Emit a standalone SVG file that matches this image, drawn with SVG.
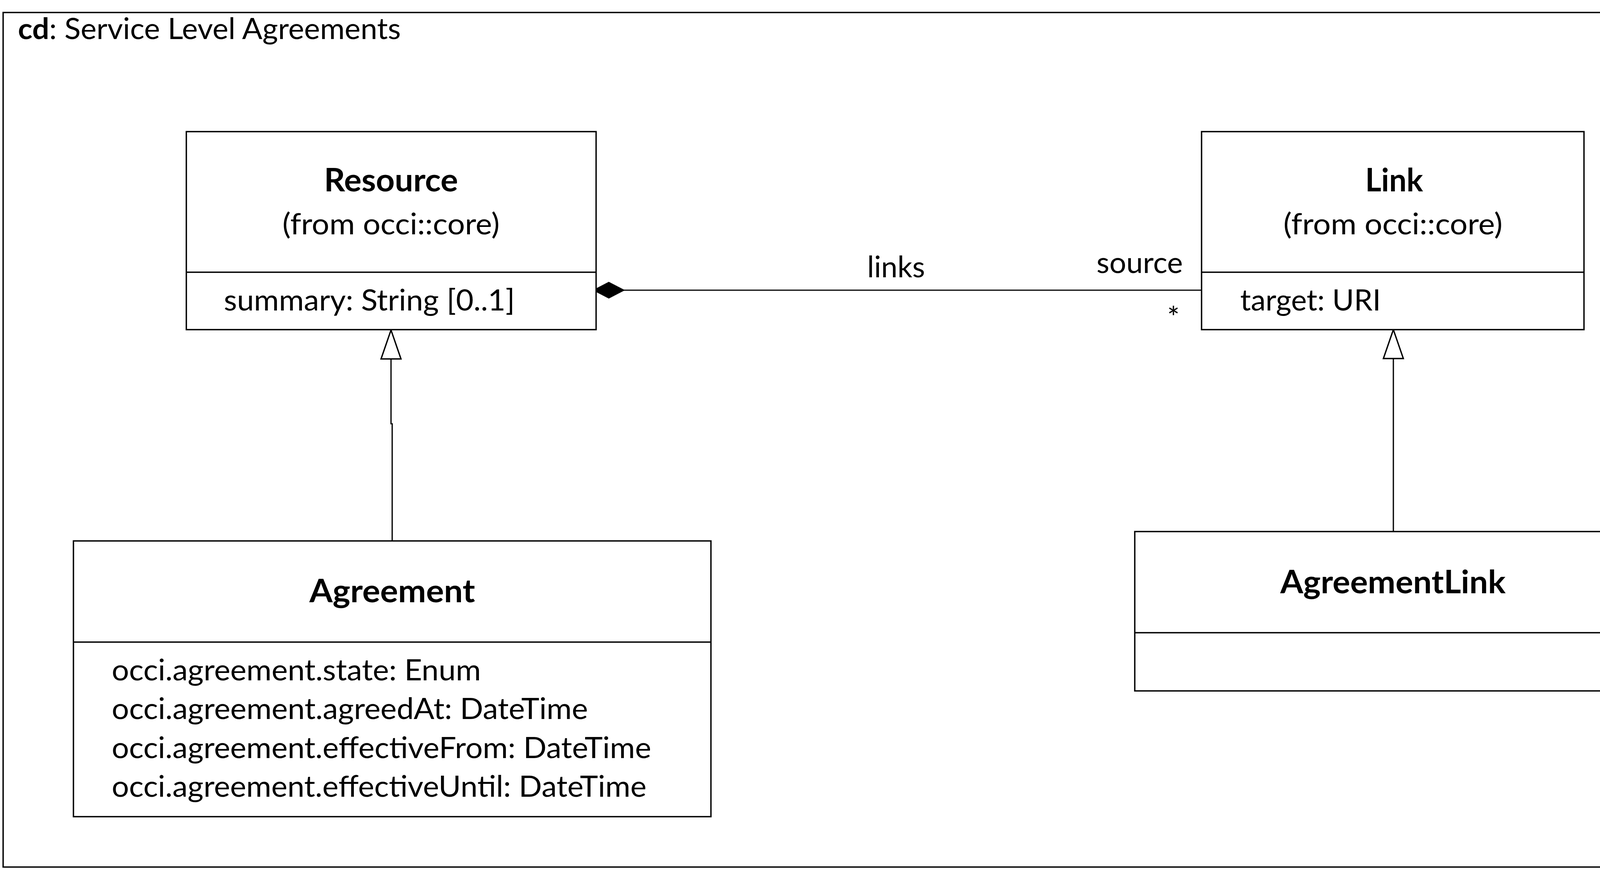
<svg xmlns="http://www.w3.org/2000/svg" width="4375" height="2225" viewBox="0 0 4375 2225">
<style>
  .box { fill: #fff; stroke: #000; stroke-width: 3.5; }
  .sep { stroke: #000; stroke-width: 3.5; }
  .edge { fill: none; stroke: #000; stroke-width: 3.2; }
  text { font-family: Lato, "Open Sans", "Liberation Sans", sans-serif; fill: #000; }
  .txt { font-size: 75px; }
  .name { font-size: 82px; font-weight: 700; text-anchor: middle; }
  .mid { text-anchor: middle; }
</style>
<defs>
  <marker id="hollowTri" markerUnits="userSpaceOnUse" viewBox="-80 -30 84 60" refX="0" refY="0" markerWidth="84" markerHeight="60" orient="auto" overflow="visible">
    <path d="M0,0 L-74,-25.5 L-74,25.5 Z" fill="#fff" stroke="#000" stroke-width="3.5"/>
  </marker>
  <marker id="diamond" markerUnits="userSpaceOnUse" viewBox="-86 -25 90 50" refX="0" refY="0" markerWidth="90" markerHeight="50" orient="auto" overflow="visible">
    <path d="M0,0 L-40.5,-21 L-81,0 L-40.5,21 Z" fill="#000" stroke="#000" stroke-width="1"/>
  </marker>
</defs>
<rect width="4375" height="2225" fill="#fff"/>
<g id="frame">
  <rect x="8" y="32" width="4360" height="2188" fill="none" stroke="#000" stroke-width="3.5"/>
  <text class="txt" x="46" y="100" textLength="980" lengthAdjust="spacingAndGlyphs"><tspan font-weight="700">cd</tspan>: Service Level Agreements</text>
</g>
<g id="connectors">
  <path class="edge" d="M3076,743 H1518" marker-end="url(#diamond)"/>
  <text class="txt mid" x="2294" y="710" textLength="148" lengthAdjust="spacingAndGlyphs">links</text>
  <text class="txt" x="2807" y="699" textLength="221" lengthAdjust="spacingAndGlyphs">source</text>
  <text class="txt mid" x="3004" y="840" font-size="95">*</text>
  <path class="edge" d="M1004,1385 V1085 H1001 V845" marker-end="url(#hollowTri)"/>
  <path class="edge" d="M3567,1361 V844" marker-end="url(#hollowTri)"/>
</g>
<g id="Resource">
  <rect class="box" x="477" y="337" width="1049" height="507"/>
  <line class="sep" x1="477" y1="697" x2="1526" y2="697"/>
  <text class="name" x="1001" y="490" textLength="343" lengthAdjust="spacingAndGlyphs">Resource</text>
  <text class="txt mid" x="1001" y="600" textLength="556" lengthAdjust="spacingAndGlyphs">(from occi::core)</text>
  <text class="txt" x="573" y="795" textLength="745" lengthAdjust="spacingAndGlyphs">summary: String [0..1]</text>
</g>
<g id="Link">
  <rect class="box" x="3076" y="337" width="979" height="507"/>
  <line class="sep" x1="3076" y1="697" x2="4055" y2="697"/>
  <text class="name" x="3569" y="490" textLength="148" lengthAdjust="spacingAndGlyphs">Link</text>
  <text class="txt mid" x="3566" y="600" textLength="561" lengthAdjust="spacingAndGlyphs">(from occi::core)</text>
  <text class="txt" x="3175" y="795" textLength="360" lengthAdjust="spacingAndGlyphs">target: URI</text>
</g>
<g id="Agreement">
  <rect class="box" x="188" y="1385" width="1632" height="706"/>
  <line class="sep" x1="188" y1="1644" x2="1820" y2="1644"/>
  <text class="name" x="1004" y="1542" textLength="424" lengthAdjust="spacingAndGlyphs">Agreement</text>
  <text class="txt" x="286" y="1742" textLength="945" lengthAdjust="spacingAndGlyphs">occi.agreement.state: Enum</text>
  <text class="txt" x="286" y="1841" textLength="1219" lengthAdjust="spacingAndGlyphs">occi.agreement.agreedAt: DateTime</text>
  <text class="txt" x="286" y="1941" textLength="1381" lengthAdjust="spacingAndGlyphs">occi.agreement.effectiveFrom: DateTime</text>
  <text class="txt" x="286" y="2040" textLength="1369" lengthAdjust="spacingAndGlyphs">occi.agreement.effectiveUntil: DateTime</text>
</g>
<g id="AgreementLink">
  <rect class="box" x="2905" y="1361" width="1323" height="408"/>
  <line class="sep" x1="2905" y1="1620" x2="4228" y2="1620"/>
  <text class="name" x="3566" y="1519" textLength="577" lengthAdjust="spacingAndGlyphs">AgreementLink</text>
</g>
</svg>
